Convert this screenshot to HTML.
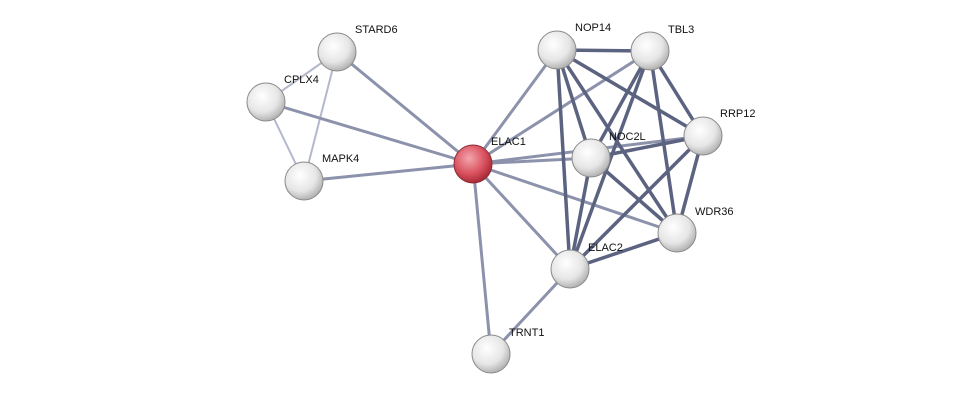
<!DOCTYPE html>
<html><head><meta charset="utf-8"><style>
html,body{margin:0;padding:0;background:#fff;}
svg{display:block;}
text{font-family:"Liberation Sans",sans-serif;font-size:11px;fill:#111;}
</style></head><body>
<svg width="976" height="400" viewBox="0 0 976 400" xmlns="http://www.w3.org/2000/svg">
<defs>
<radialGradient id="g" cx="0.4" cy="0.35" r="0.7">
<stop offset="0" stop-color="#ffffff"/><stop offset="0.6" stop-color="#e6e6e6"/><stop offset="1" stop-color="#a9a9a9"/>
</radialGradient>
<radialGradient id="r" cx="0.4" cy="0.35" r="0.7">
<stop offset="0" stop-color="#f3a6ad"/><stop offset="0.6" stop-color="#d9505e"/><stop offset="1" stop-color="#9e2331"/>
</radialGradient>
</defs>
<g stroke-linecap="round">
<g stroke="#b4b8cc" stroke-width="2">
<line x1="337" y1="52" x2="266" y2="102"/>
<line x1="337" y1="52" x2="304" y2="181"/>
<line x1="266" y1="102" x2="304" y2="181"/>
</g>
<g stroke="#8c92ab" stroke-width="3">
<line x1="337" y1="52" x2="473" y2="164"/>
<line x1="266" y1="102" x2="473" y2="164"/>
<line x1="304" y1="181" x2="473" y2="164"/>
<line x1="473" y1="164" x2="557" y2="50"/>
<line x1="473" y1="164" x2="650" y2="51"/>
<line x1="473" y1="164" x2="703" y2="136"/>
<line x1="473" y1="164" x2="591" y2="158"/>
<line x1="473" y1="164" x2="677" y2="233"/>
<line x1="473" y1="164" x2="570" y2="269"/>
<line x1="473" y1="164" x2="491" y2="354"/>
<line x1="570" y1="269" x2="491" y2="354"/>
</g>
<g stroke="#5c6380" stroke-width="3.5">
<line x1="557" y1="50" x2="650" y2="51"/>
<line x1="557" y1="50" x2="703" y2="136"/>
<line x1="557" y1="50" x2="591" y2="158"/>
<line x1="557" y1="50" x2="677" y2="233"/>
<line x1="557" y1="50" x2="570" y2="269"/>
<line x1="650" y1="51" x2="703" y2="136"/>
<line x1="650" y1="51" x2="591" y2="158"/>
<line x1="650" y1="51" x2="677" y2="233"/>
<line x1="650" y1="51" x2="570" y2="269"/>
<line x1="703" y1="136" x2="591" y2="158"/>
<line x1="703" y1="136" x2="677" y2="233"/>
<line x1="703" y1="136" x2="570" y2="269"/>
<line x1="591" y1="158" x2="677" y2="233"/>
<line x1="591" y1="158" x2="570" y2="269"/>
<line x1="677" y1="233" x2="570" y2="269"/>
</g>
</g>
<g stroke="#8a8a8a" stroke-width="1">
<circle cx="337" cy="52" r="19" fill="url(#g)"/>
<circle cx="266" cy="102" r="19" fill="url(#g)"/>
<circle cx="304" cy="181" r="19" fill="url(#g)"/>
<circle cx="473" cy="164" r="19" fill="url(#r)" stroke="#8a2a33"/>
<circle cx="557" cy="50" r="19" fill="url(#g)"/>
<circle cx="650" cy="51" r="19" fill="url(#g)"/>
<circle cx="703" cy="136" r="19" fill="url(#g)"/>
<circle cx="591" cy="158" r="19" fill="url(#g)"/>
<circle cx="677" cy="233" r="19" fill="url(#g)"/>
<circle cx="570" cy="269" r="19" fill="url(#g)"/>
<circle cx="491" cy="354" r="19" fill="url(#g)"/>
</g>
<text x="355" y="33">STARD6</text>
<text x="284" y="83">CPLX4</text>
<text x="322" y="162">MAPK4</text>
<text x="491" y="145">ELAC1</text>
<text x="575" y="31">NOP14</text>
<text x="668" y="33">TBL3</text>
<text x="720" y="117">RRP12</text>
<text x="609" y="140">NOC2L</text>
<text x="695" y="215">WDR36</text>
<text x="588" y="251">ELAC2</text>
<text x="509" y="336">TRNT1</text>
</svg>
</body></html>
